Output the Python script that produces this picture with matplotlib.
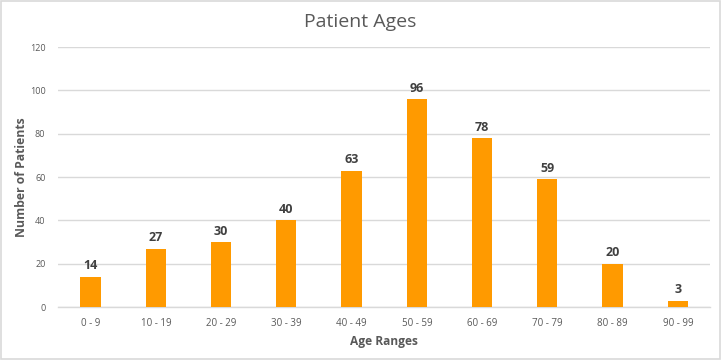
import matplotlib
matplotlib.use("Agg")
import matplotlib.pyplot as plt
from matplotlib.patches import Rectangle

categories = ["0 - 9", "10 - 19", "20 - 29", "30 - 39", "40 - 49",
              "50 - 59", "60 - 69", "70 - 79", "80 - 89", "90 - 99"]
values = [14, 27, 30, 40, 63, 96, 78, 59, 20, 3]
yticks = [0, 20, 40, 60, 80, 100, 120]

plt.rcParams['font.family'] = ['Open Sans', 'DejaVu Sans']

fig = plt.figure(figsize=(7.21, 3.6), dpi=100)
ax = fig.add_axes([0.0804, 0.147, 0.905, 0.722])

x = list(range(len(categories)))
bars = ax.bar(x, values, width=0.31, color="#FF9A00", zorder=3)
for xi, v in zip(x, values):
    ax.text(xi, v + 2, str(v), ha="center", va="bottom", fontsize=9,
            fontweight="bold", color="#404040")

ax.set_xlim(-0.5, len(categories) - 0.5)
ax.set_ylim(0, 120)
ax.set_yticks(yticks)
ax.set_yticklabels([str(t) for t in yticks], fontsize=6.5, color="#595959")
ax.set_xticks(x)
ax.set_xticklabels(categories, fontsize=7, color="#595959")
ax.tick_params(axis="both", length=0, pad=8)
ax.tick_params(axis="y", pad=9)
ax.grid(axis="y", color="#d9d9d9", linewidth=1, zorder=0)
for s in ["top", "right", "left"]:
    ax.spines[s].set_visible(False)
ax.spines["bottom"].set_color("#d9d9d9")
ax.spines["bottom"].set_linewidth(1)

ax.set_xlabel("Age Ranges", fontsize=8.6, fontweight="bold", color="#595959", labelpad=4)
ax.set_ylabel("Number of Patients", fontsize=8.8, fontweight="bold", color="#595959", labelpad=1)

fig.text(0.5, 0.94, "Patient Ages", ha="center", va="center", fontsize=14,
         color="#595959")

fig.patches.append(Rectangle((0.001, 0.002), 0.997, 0.995, transform=fig.transFigure,
                             fill=False, edgecolor="#d9d9d9", linewidth=1.2))

fig.savefig("out.png", dpi=100)
